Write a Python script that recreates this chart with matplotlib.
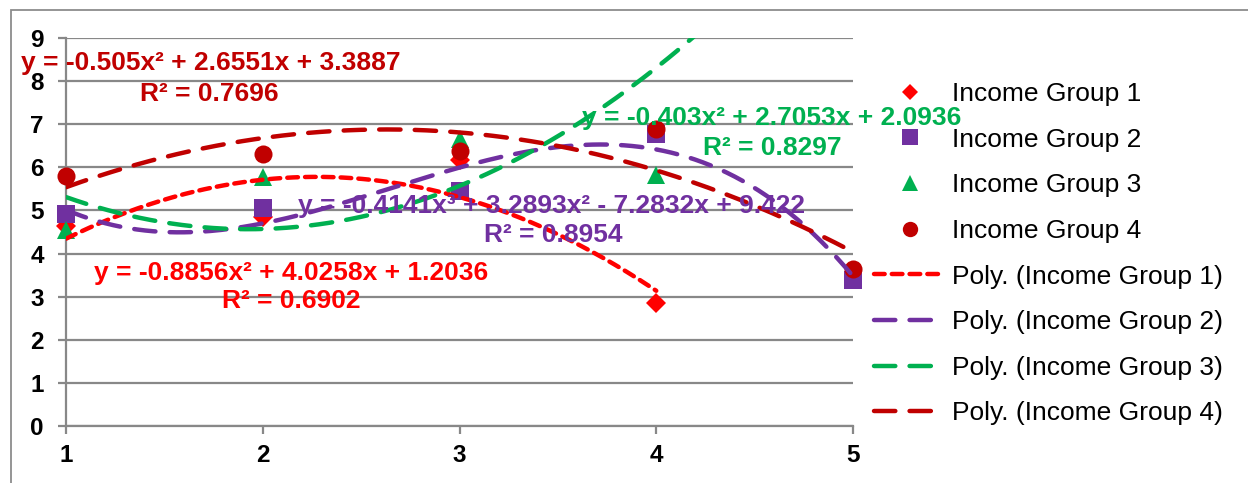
import numpy as np
import matplotlib.pyplot as plt
from matplotlib.patches import Rectangle
from matplotlib.lines import Line2D

plt.rcParams['font.family'] = ['Liberation Sans', 'DejaVu Sans']

# survey scores per income group at levels 1..5
x_levels = [1, 2, 3, 4, 5]
group1 = [4.63, 4.84, 6.18, 2.85]
group2 = [4.92, 5.06, 5.45, 6.78, 3.39]
group3 = [4.55, 5.78, 6.66, 5.82]
group4 = [5.80, 6.32, 6.37, 6.90, 3.65]

# trendline polynomial coefficients (highest power first)
trend1 = [-0.8856, 4.0258, 1.2036]
trend2 = [-0.4141, 3.2893, -7.2832, 9.422]
trend3 = [0.87, -3.35, 7.79]
trend4 = [-0.505, 2.6551, 3.3887]

eq_labels = [
    ("y = -0.8856x² + 4.0258x + 1.2036", "R² = 0.6902"),
    ("y = -0.4141x³ + 3.2893x² - 7.2832x + 9.422", "R² = 0.8954"),
    ("y = -0.403x² + 2.7053x + 2.0936", "R² = 0.8297"),
    ("y = -0.505x² + 2.6551x + 3.3887", "R² = 0.7696"),
]
group_names = ["Income Group 1", "Income Group 2", "Income Group 3", "Income Group 4"]

colors = ['#FF0000', '#7030A0', '#00B050', '#C00000']
markers = ['D', 's', '^', 'o']
msizes = [10, 13, 13, 13]
dashes = [(2.4, 1.6), (4.8, 3.2), (4.8, 3.2), (4.8, 3.2)]

fig = plt.figure(figsize=(12.48, 4.83), dpi=100)
ax = fig.add_axes([66/1248, 1-426/483, (853-66)/1248, (426-38)/483])

# outer chart frame
fig.patches.append(Rectangle((11/1248, -0.1), 1.2, 1.1 - 10/483, transform=fig.transFigure,
                             fill=False, edgecolor='#8c8c8c', linewidth=1.3, zorder=0))

series = [group1, group2, group3, group4]
trends = [trend1, trend2, trend3, trend4]

for i, ys in enumerate(series):
    xs = x_levels[:len(ys)]
    ax.plot(xs, ys, linestyle='none', marker=markers[i], markersize=msizes[i],
            color=colors[i], markeredgewidth=0, zorder=3, clip_on=False)

for i, coef in enumerate(trends):
    xs_end = 4 if i == 0 else 5
    xx = np.linspace(1, xs_end, 300)
    ax.plot(xx, np.polyval(coef, xx), color=colors[i], linewidth=3.2,
            dashes=dashes[i], dash_capstyle='round', zorder=4)

ax.set_xlim(1, 5)
ax.set_ylim(0, 9)
ax.set_xticks(x_levels)
ax.set_yticks(range(0, 10))
ax.grid(axis='y', color='#888888', linewidth=1.6)
ax.set_axisbelow(True)
for s in ['top', 'right']:
    ax.spines[s].set_visible(False)
for s in ['left', 'bottom']:
    ax.spines[s].set_color('#888888')
    ax.spines[s].set_linewidth(1.6)
ax.tick_params(axis='y', length=6, width=1.6, color='#888888', pad=10, labelsize=17.5)
ax.tick_params(axis='x', length=6, width=1.6, color='#888888', pad=7, labelsize=17.5)
for lab in ax.get_xticklabels() + ax.get_yticklabels():
    lab.set_fontweight('bold')

# equation labels (data coordinates)
eq_pos = [((2.146, 3.55), (2.146, 2.90)),
          ((3.468, 5.10), (3.475, 4.43)),
          ((4.588, 7.14), (4.59, 6.45)),
          ((1.734, 8.42), (1.73, 7.70))]
for i, (eq, r2) in enumerate(eq_labels):
    (x1, y1), (x2, y2) = eq_pos[i]
    ax.text(x1, y1, eq, color=colors[i], fontsize=19, fontweight='bold',
            ha='center', va='center', zorder=6)
    ax.text(x2, y2, r2, color=colors[i], fontsize=19, fontweight='bold',
            ha='center', va='center', zorder=6)

handles = []
for i in range(4):
    handles.append(Line2D([], [], linestyle='none', marker=markers[i],
                          markersize=msizes[i] * 0.85, color=colors[i], markeredgewidth=0))
for i in range(4):
    handles.append(Line2D([], [], color=colors[i], linewidth=3.2, dashes=dashes[i],
                          dash_capstyle='round'))
labels = group_names + [f"Poly. ({g})" for g in group_names]
fig.legend(handles, labels, loc='upper left', bbox_to_anchor=(874/1248, 1-82/483),
           frameon=False, fontsize=19, borderpad=0, borderaxespad=0,
           handlelength=2.7, handletextpad=0.27, labelspacing=0.82)

fig.savefig('out.png', dpi=100)
